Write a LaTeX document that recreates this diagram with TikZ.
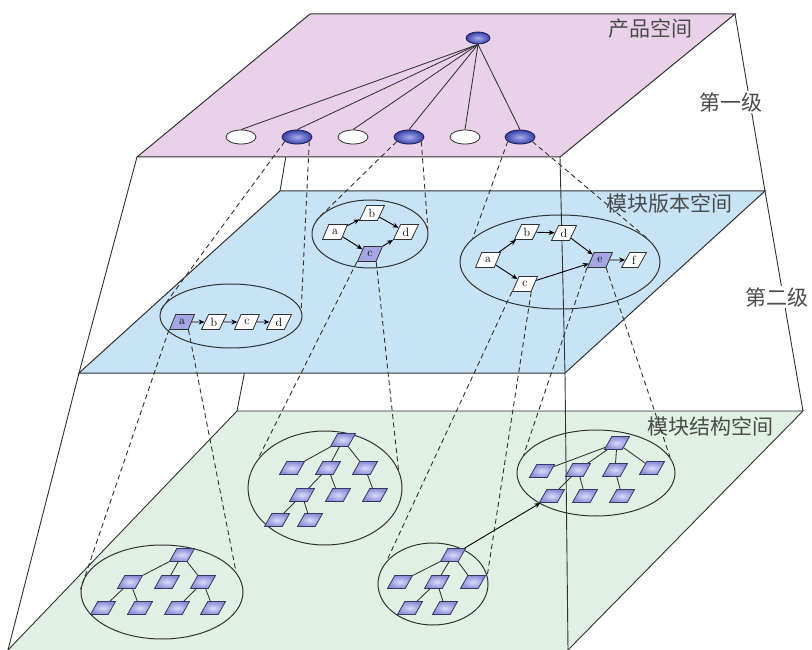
\documentclass[tikz,border=0pt]{standalone}
\usepackage{fontspec}
\newfontfamily\cjk{Noto Sans CJK SC}
\usetikzlibrary{shapes.geometric,arrows.meta}
\definecolor{pinkp}{RGB}{234,209,234}
\definecolor{bluep}{RGB}{200,227,246}
\definecolor{greenp}{RGB}{224,240,226}
\definecolor{edgec}{RGB}{50,50,50}
\definecolor{lblc}{RGB}{75,75,75}
\definecolor{topin}{RGB}{165,175,240}
\definecolor{topout}{RGB}{55,65,165}
\definecolor{topdraw}{RGB}{30,30,90}
\definecolor{vshade}{RGB}{165,165,228}
\definecolor{tnin}{RGB}{218,218,250}
\definecolor{tnout}{RGB}{140,140,215}
\definecolor{tndraw}{RGB}{55,55,100}
\begin{document}
\begin{tikzpicture}[x=1pt,y=-1pt,
  frame/.style={draw=edgec,line width=0.9pt},
  lbl/.style={font=\cjk\fontsize{21}{21}\selectfont,text=lblc,inner sep=1pt},
  topw/.style={ellipse,draw=edgec,line width=0.8pt,fill=white,minimum width=30,minimum height=14,inner sep=0},
  topb/.style={ellipse,draw=topdraw,line width=0.8pt,inner color=topin,outer color=topout,minimum width=30,minimum height=14,inner sep=0},
  grp/.style={ellipse,draw=edgec,line width=1pt,inner sep=0},
  ver/.style={trapezium,trapezium left angle=62,trapezium right angle=118,trapezium stretches=true,draw=edgec,line width=0.8pt,fill=white,minimum width=25,minimum height=15,inner sep=1pt,font=\fontsize{12}{12}\selectfont},
  verS/.style={ver,fill=vshade},
  tn/.style={trapezium,trapezium left angle=55,trapezium right angle=125,trapezium stretches=true,draw=tndraw,line width=0.8pt,inner color=tnin,outer color=tnout,minimum width=25,minimum height=13,inner sep=1pt},
  tedge/.style={draw=edgec,line width=0.85pt},
  arr/.style={-{Stealth[length=6pt,width=5pt]},draw=black,line width=0.9pt},
  dsh/.style={draw=edgec,line width=0.9pt,dash pattern=on 5pt off 3.5pt}]
\useasboundingbox (0,0) rectangle (812,650);
\fill[white] (0,0) rectangle (812,650);
% green plane
\fill[greenp] (237,411) -- (803,411) -- (568,650) -- (8,650) -- cycle;
\draw[frame] (8,650) -- (237,411) -- (803,411) -- (568,650);
\draw[frame] (280,191) -- (237,411);
% blue plane
\filldraw[fill=bluep,draw=edgec,line width=1pt] (280,191) -- (765,191) -- (565,373) -- (79,373) -- cycle;
\draw[frame] (310,14) -- (280,191);
% pink plane
\filldraw[fill=pinkp,draw=edgec,line width=1pt] (310,14) -- (735,14) -- (560,157) -- (137,157) -- cycle;
% outer frame
\draw[frame] (137,157) -- (79,373) -- (8,650);
\draw[frame] (735,14) -- (765,191) -- (803,411);
\draw[frame] (560,157) -- (565,373) -- (568,650);
% labels
\node[lbl] (l1) at (650,29) {产品空间};
\node[lbl,fill=white] (l2) at (731,102) {第一级};
\node[lbl] (l3) at (669,204) {模块版本空间};
\node[lbl,fill=white] (l4) at (777,297) {第二级};
\node[lbl] (l5) at (710,426) {模块结构空间};
% product space
\node[topb,minimum width=24,minimum height=12] (top) at (478,38) {};
\node[topw] (T1) at (241,137) {};
\node[topb] (T2) at (297,137) {};
\node[topw] (T3) at (353,137) {};
\node[topb] (T4) at (409,137) {};
\node[topw] (T5) at (465,137) {};
\node[topb] (T6) at (520,137) {};
\foreach \t in {T1,T2,T3,T4,T5,T6} \draw[tedge] (top.south) -- (\t.north);
% version space
\node[grp,minimum width=142,minimum height=64] (B1) at (231,316) {};
\node[grp,minimum width=116,minimum height=68] (B2) at (370,234) {};
\node[grp,minimum width=200,minimum height=94] (B3) at (560,262) {};
\node[verS] (a1) at (182,322) {a};
\node[ver] (b1) at (214,322) {b};
\node[ver] (c1) at (247,322) {c};
\node[ver] (d1) at (279,322) {d};
\draw[arr] (a1) -- (b1); \draw[arr] (b1) -- (c1); \draw[arr] (c1) -- (d1);
\node[ver] (a2) at (335,232) {a};
\node[ver] (b2) at (372,213) {b};
\node[ver] (d2) at (406,232) {d};
\node[verS] (c2) at (370,254) {c};
\draw[arr] (a2) -- (b2); \draw[arr] (a2) -- (c2); \draw[arr] (b2) -- (d2); \draw[arr] (c2) -- (d2);
\node[ver] (a3) at (488,260) {a};
\node[ver] (b3) at (527,232) {b};
\node[ver] (d3) at (564,233) {d};
\node[verS] (e3) at (600,260) {e};
\node[ver] (f3) at (634,260) {f};
\node[ver] (c3) at (525,284) {c};
\draw[arr] (a3) -- (b3); \draw[arr] (a3) -- (c3); \draw[arr] (b3) -- (d3);
\draw[arr] (d3) -- (e3); \draw[arr] (c3) -- (e3); \draw[arr] (e3) -- (f3);
% structure space
\node[grp,minimum width=162,minimum height=94] (G1) at (162,592) {};
\node[grp,minimum width=154,minimum height=114] (G2) at (325,488) {};
\node[grp,minimum width=110,minimum height=82] (G3) at (433,584) {};
\node[grp,minimum width=158,minimum height=86] (G4) at (596,473) {};
% G1 tree
\node[tn] (g1r) at (182,555) {};
\node[tn] (g1a) at (130,582) {};
\node[tn] (g1b) at (167,582) {};
\node[tn] (g1c) at (203,582) {};
\node[tn] (g1d) at (103,608) {};
\node[tn] (g1e) at (140,608) {};
\node[tn] (g1f) at (177,608) {};
\node[tn] (g1g) at (213,608) {};
\draw[tedge] (g1r) -- (g1a); \draw[tedge] (g1r) -- (g1b); \draw[tedge] (g1r) -- (g1c);
\draw[tedge] (g1a) -- (g1d); \draw[tedge] (g1a) -- (g1e);
\draw[tedge] (g1c) -- (g1f); \draw[tedge] (g1c) -- (g1g);
% G2 tree
\node[tn] (g2r) at (343,440) {};
\node[tn] (g2a) at (292,468) {};
\node[tn] (g2b) at (328,468) {};
\node[tn] (g2c) at (365,468) {};
\node[tn] (g2d) at (302,495) {};
\node[tn] (g2e) at (338,495) {};
\node[tn] (g2f) at (375,495) {};
\node[tn] (g2g) at (277,520) {};
\node[tn] (g2h) at (310,520) {};
\draw[tedge] (g2r) -- (g2a); \draw[tedge] (g2r) -- (g2b); \draw[tedge] (g2r) -- (g2c);
\draw[tedge] (g2b) -- (g2d); \draw[tedge] (g2b) -- (g2e); \draw[tedge] (g2c) -- (g2f);
\draw[tedge] (g2d) -- (g2g); \draw[tedge] (g2d) -- (g2h);
% G3 tree
\node[tn] (g3r) at (453,555) {};
\node[tn] (g3a) at (400,582) {};
\node[tn] (g3b) at (437,582) {};
\node[tn] (g3c) at (473,582) {};
\node[tn] (g3d) at (410,608) {};
\node[tn] (g3e) at (445,608) {};
\draw[tedge] (g3r) -- (g3a); \draw[tedge] (g3r) -- (g3b); \draw[tedge] (g3r) -- (g3c);
\draw[tedge] (g3b) -- (g3d); \draw[tedge] (g3b) -- (g3e);
% G4 tree
\node[tn] (g4r) at (617,443) {};
\node[tn] (g4a) at (542,471) {};
\node[tn] (g4b) at (578,470) {};
\node[tn] (g4c) at (615,470) {};
\node[tn] (g4d) at (652,468) {};
\node[tn] (g4e) at (552,496) {};
\node[tn] (g4f) at (585,496) {};
\node[tn] (g4g) at (622,496) {};
\draw[tedge] (g4r) -- (g4a); \draw[tedge] (g4r) -- (g4b); \draw[tedge] (g4r) -- (g4c); \draw[tedge] (g4r) -- (g4d);
\draw[tedge] (g4b) -- (g4e); \draw[tedge] (g4b) -- (g4f); \draw[tedge] (g4c) -- (g4g);
\draw[arr] (g3r) -- (g4e);
% dashed projections
\draw[dsh] (T2.200) -- (B1.175);
\draw[dsh] (T2.-20) -- (B1.5);
\draw[dsh] (T4.200) -- (B2.165);
\draw[dsh] (T4.-20) -- (B2.5);
\draw[dsh] (T6.200) -- (B3.165);
\draw[dsh] (T6.-20) -- (B3.15);
\draw[dsh] (a1.bottom left corner) -- (G1.178);
\draw[dsh] (a1.bottom right corner) -- (G1.15);
\draw[dsh] (c2.bottom left corner) -- (G2.157);
\draw[dsh] (c2.bottom right corner) -- (G2.14);
\draw[dsh] (c3.bottom left corner) -- (G3.154);
\draw[dsh] (c3.bottom right corner) -- (G3.9);
\draw[dsh] (e3.bottom left corner) -- (G4.166);
\draw[dsh] (e3.bottom right corner) -- (G4.12);
\end{tikzpicture}
\end{document}
